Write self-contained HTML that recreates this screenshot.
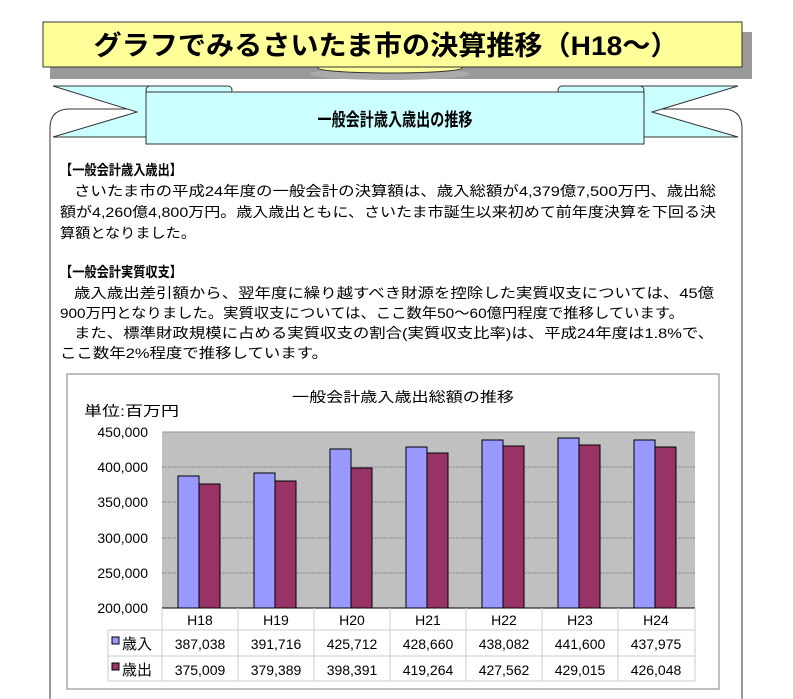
<!DOCTYPE html>
<html><head><meta charset="utf-8"><style>
html,body{margin:0;padding:0;background:#fff;width:793px;height:699px;overflow:hidden}
svg{display:block}
text{font-family:"Liberation Sans","Noto Sans CJK JP",sans-serif}
</style></head><body>
<svg width="793" height="699" viewBox="0 0 793 699">
<!-- outer panel -->
<path d="M50,699 L50,128 Q50,109 70,109 L722,109 Q742,109 742,128 L742,699" fill="#fff" stroke="#333" stroke-width="1"/>
<!-- title banner -->
<rect x="50" y="32" width="702" height="47" fill="#999"/>
<ellipse cx="390" cy="74" rx="80" ry="6" fill="#aaa"/>
<ellipse cx="390" cy="68" rx="72" ry="5" fill="#ffff99" stroke="#333"/>
<rect x="43" y="22" width="699" height="45" fill="#ffff99" stroke="#333"/>
<text x="386" y="55" font-size="27" font-weight="bold" text-anchor="middle" textLength="585" lengthAdjust="spacingAndGlyphs">グラフでみるさいたま市の決算推移（H18～）</text>
<!-- ribbon -->
<polygon points="53,86 150,86 150,137 53,137 137,112" fill="#ccffff" stroke="#333"/>
<polygon points="738,86 640,86 640,137 738,137 652,112" fill="#ccffff" stroke="#333"/>
<rect x="146" y="86" width="86" height="8" rx="4" fill="#ccffff" stroke="#333"/>
<rect x="558" y="86" width="86" height="8" rx="4" fill="#ccffff" stroke="#333"/>
<rect x="146" y="92" width="498" height="52" fill="#ccffff" stroke="#333"/>
<text x="395" y="126" font-size="18" font-weight="bold" text-anchor="middle" textLength="155" lengthAdjust="spacingAndGlyphs">一般会計歳入歳出の推移</text>
<!-- body text -->
<g font-size="14" fill="#000">
<text x="60" y="175" font-weight="bold" textLength="122" lengthAdjust="spacingAndGlyphs">【一般会計歳入歳出】</text>
<text x="74" y="196" textLength="642" lengthAdjust="spacingAndGlyphs">さいたま市の平成24年度の一般会計の決算額は、歳入総額が4,379億7,500万円、歳出総</text>
<text x="60" y="217" textLength="656" lengthAdjust="spacingAndGlyphs">額が4,260億4,800万円。歳入歳出ともに、さいたま市誕生以来初めて前年度決算を下回る決</text>
<text x="60" y="238" textLength="136" lengthAdjust="spacingAndGlyphs">算額となりました。</text>
<text x="60" y="277" font-weight="bold" textLength="122" lengthAdjust="spacingAndGlyphs">【一般会計実質収支】</text>
<text x="74" y="298" textLength="640" lengthAdjust="spacingAndGlyphs">歳入歳出差引額から、翌年度に繰り越すべき財源を控除した実質収支については、45億</text>
<text x="60" y="318" textLength="624" lengthAdjust="spacingAndGlyphs">900万円となりました。実質収支については、ここ数年50～60億円程度で推移しています。</text>
<text x="74" y="338" textLength="640" lengthAdjust="spacingAndGlyphs">また、標準財政規模に占める実質収支の割合(実質収支比率)は、平成24年度は1.8%で、</text>
<text x="60" y="358" textLength="268" lengthAdjust="spacingAndGlyphs">ここ数年2%程度で推移しています。</text>
</g>
<!-- chart box -->
<rect x="67" y="374" width="652" height="315" fill="#fff" stroke="#aaa" stroke-width="1.5"/>
<text x="403" y="402" font-size="14" text-anchor="middle" textLength="222" lengthAdjust="spacingAndGlyphs">一般会計歳入歳出総額の推移</text>
<text x="84" y="416" font-size="14" textLength="95" lengthAdjust="spacingAndGlyphs">単位:百万円</text>
<rect x="162" y="432" width="533" height="176" fill="#c0c0c0"/>
<g stroke="#888" stroke-width="1" stroke-dasharray="2,1">
<line x1="162" y1="467" x2="695" y2="467"/><line x1="162" y1="502" x2="695" y2="502"/>
<line x1="162" y1="538" x2="695" y2="538"/><line x1="162" y1="573" x2="695" y2="573"/>
</g>
<line x1="162" y1="432" x2="695" y2="432" stroke="#999"/>
<g font-size="14" text-anchor="end">
<text x="148" y="437">450,000</text><text x="148" y="472">400,000</text><text x="148" y="507">350,000</text>
<text x="148" y="543">300,000</text><text x="148" y="578">250,000</text><text x="148" y="613">200,000</text>
</g>
<g stroke="#000" stroke-width="1">
<rect x="178" y="476" width="21" height="132" fill="#9999ff"/><rect x="199" y="484" width="21" height="124" fill="#993366"/>
<rect x="254" y="473" width="21" height="135" fill="#9999ff"/><rect x="275" y="481" width="21" height="127" fill="#993366"/>
<rect x="330" y="449" width="21" height="159" fill="#9999ff"/><rect x="351" y="468" width="21" height="140" fill="#993366"/>
<rect x="406" y="447" width="21" height="161" fill="#9999ff"/><rect x="427" y="453" width="21" height="155" fill="#993366"/>
<rect x="482" y="440" width="21" height="168" fill="#9999ff"/><rect x="503" y="446" width="21" height="162" fill="#993366"/>
<rect x="558" y="438" width="21" height="170" fill="#9999ff"/><rect x="579" y="445" width="21" height="163" fill="#993366"/>
<rect x="634" y="440" width="21" height="168" fill="#9999ff"/><rect x="655" y="447" width="21" height="161" fill="#993366"/>
</g>
<line x1="162" y1="608" x2="695" y2="608" stroke="#000"/>
<!-- table -->
<g stroke="#ccc" stroke-width="1" fill="none">
<line x1="108" y1="630" x2="695" y2="630"/><line x1="108" y1="656" x2="695" y2="656"/><line x1="108" y1="681" x2="695" y2="681"/>
<line x1="108" y1="630" x2="108" y2="681"/>
<line x1="162" y1="608" x2="162" y2="681"/><line x1="238" y1="608" x2="238" y2="681"/><line x1="314" y1="608" x2="314" y2="681"/>
<line x1="390" y1="608" x2="390" y2="681"/><line x1="466" y1="608" x2="466" y2="681"/><line x1="542" y1="608" x2="542" y2="681"/>
<line x1="618" y1="608" x2="618" y2="681"/><line x1="695" y1="608" x2="695" y2="681"/>
</g>
<g font-size="14" text-anchor="middle">
<text x="200" y="625">H18</text><text x="276" y="625">H19</text><text x="352" y="625">H20</text><text x="428" y="625">H21</text>
<text x="504" y="625">H22</text><text x="580" y="625">H23</text><text x="656" y="625">H24</text>
<text x="200" y="649">387,038</text><text x="276" y="649">391,716</text><text x="352" y="649">425,712</text><text x="428" y="649">428,660</text>
<text x="504" y="649">438,082</text><text x="580" y="649">441,600</text><text x="656" y="649">437,975</text>
<text x="200" y="675">375,009</text><text x="276" y="675">379,389</text><text x="352" y="675">398,391</text><text x="428" y="675">419,264</text>
<text x="504" y="675">427,562</text><text x="580" y="675">429,015</text><text x="656" y="675">426,048</text>
</g>
<rect x="112" y="637" width="7" height="7" fill="#9999ff" stroke="#000"/>
<rect x="112" y="663" width="7" height="7" fill="#993366" stroke="#000"/>
<text x="122" y="649" font-size="15">歳入</text>
<text x="122" y="675" font-size="15">歳出</text>
</svg>
</body></html>
